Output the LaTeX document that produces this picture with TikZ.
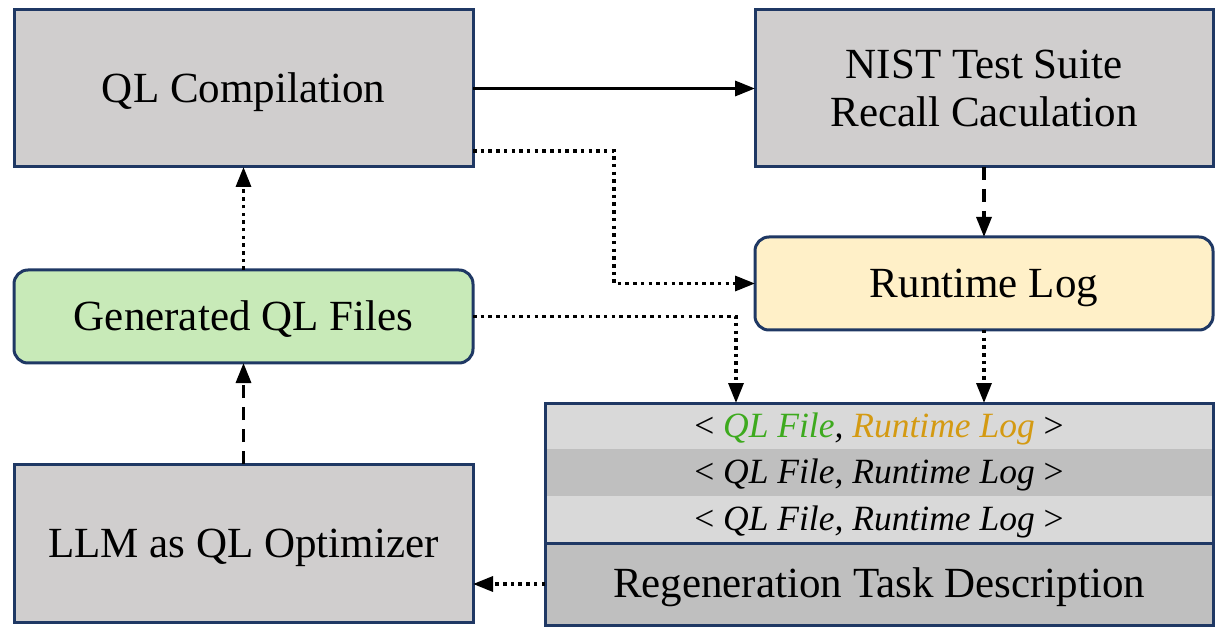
\documentclass[tikz,border=0pt]{standalone}
\usepackage{fontspec}
\setmainfont{Liberation Serif}
\usetikzlibrary{arrows.meta,calc}
\definecolor{navy}{HTML}{1F3864}
\definecolor{boxgray}{HTML}{D0CECE}
\definecolor{boxgreen}{HTML}{C8EAB8}
\definecolor{boxyellow}{HTML}{FFF0C8}
\definecolor{rowlight}{HTML}{D9D9D9}
\definecolor{rowdark}{HTML}{BFBFBF}
\definecolor{txtgreen}{HTML}{3DAA1E}
\definecolor{txtorange}{HTML}{D49A12}
\tikzset{
  base/.style={inner sep=0pt, outer sep=0pt, align=center,
    font=\fontsize{43}{50}\selectfont},
  oneline/.style={text height=30pt, text depth=1pt},
  graybox/.style={base, draw=navy, line width=3pt, fill=boxgray},
  greenbox/.style={base, oneline, draw=navy, line width=3pt, fill=boxgreen, rounded corners=14pt},
  yellowbox/.style={base, oneline, draw=navy, line width=3pt, fill=boxyellow, rounded corners=14pt},
  rowbox/.style={inner sep=0pt, outer sep=0pt, minimum width=668pt,
    text height=24pt, text depth=2pt,
    font=\fontsize{35.5}{40}\selectfont\itshape},
  conn/.style={line width=3.3pt, -{Triangle[length=20pt,width=15pt]}},
  solidarrow/.style={conn},
  dotarrow/.style={conn, dash pattern=on 3.5pt off 4.2pt},
  dasharrow/.style={conn, dash pattern=on 13pt off 9pt},
}
\newcommand{\lt}{{\upshape <}}
\newcommand{\gt}{{\upshape >}}
\begin{document}
\begin{tikzpicture}[x=1pt,y=-1pt]
\useasboundingbox (0,0) rectangle (1224,636);
% boxes
\node[graybox, oneline, minimum width=459pt, minimum height=157pt] (qlc) at (243.5,88.5) {QL Compilation};
\node[graybox, minimum width=458pt, minimum height=157pt] (nist) at (984,88.5) {\raisebox{-2pt}{NIST Test Suite}\\Recall Caculation};
\node[greenbox, minimum width=459pt, minimum height=93pt] (gen) at (243.5,316.5) {Generated QL Files};
\node[yellowbox, minimum width=458pt, minimum height=93pt] (rlog) at (984,283.5) {Runtime Log};
\node[graybox, oneline, minimum width=459pt, minimum height=158pt] (llm) at (243.5,543) {LLM as QL Optimizer};
% table
\node[rowbox, fill=rowlight, minimum height=46pt] (r1) at (879,426) {\lt{} \textcolor{txtgreen}{QL File}, \textcolor{txtorange}{Runtime Log} \gt};
\node[rowbox, fill=rowdark, minimum height=47pt] (r2) at (879,472.5) {\lt{} QL File, Runtime Log \gt};
\node[rowbox, fill=rowlight, minimum height=47pt] (r3) at (879,519.5) {\lt{} QL File, Runtime Log \gt};
\node[base, text height=30pt, text depth=4pt, fill=rowdark, minimum width=668pt, minimum height=82pt] (regen) at (879,584) {Regeneration Task Description};
\node[draw=navy, line width=3pt, inner sep=0pt, outer sep=0pt, minimum width=668pt, minimum height=222pt] (tbl) at (879,514) {};
\draw[navy, line width=3pt] (regen.north west) -- (regen.north east);
% connectors
\draw[solidarrow] (qlc.east) -- (nist.west);
\draw[dasharrow] (nist.south) -- (rlog.north);
\draw[dotarrow] ($(qlc.south east)+(0,-16)$) -- ($(qlc.south east)+(141,-16)$) |- (rlog.west);
\draw[dotarrow] (gen.east) -| ($(tbl.north west)+(191,0)$);
\draw[dotarrow] (rlog.south) -- (rlog.south |- tbl.north);
\draw[dotarrow] (gen.north) -- (qlc.south);
\draw[dasharrow] (llm.north) -- (gen.south);
\draw[dotarrow] (regen.west) -- (regen.west -| llm.east);
\end{tikzpicture}
\end{document}
